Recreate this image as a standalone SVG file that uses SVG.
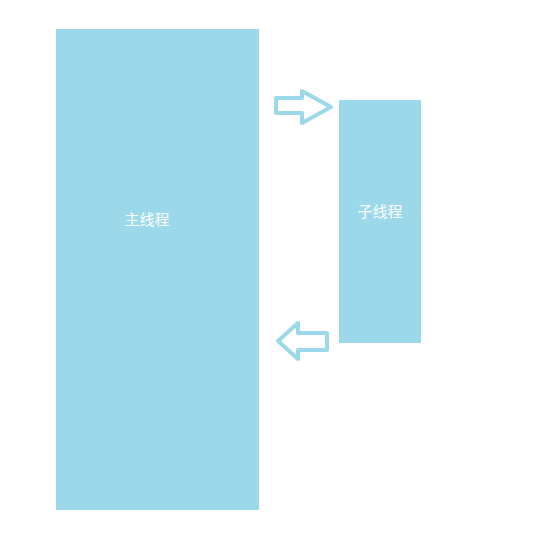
<svg xmlns="http://www.w3.org/2000/svg" width="534" height="545" viewBox="0 0 534 545">
<style>
.box{fill:#9bd9ea;}
.lbl{fill:#ffffff;font-family:"Noto Sans CJK SC","Noto Sans",sans-serif;font-size:15px;text-anchor:middle;dominant-baseline:central;}
.arrow{fill:#ffffff;stroke:#9bd9ea;stroke-width:4;stroke-linejoin:round;}
</style>
<rect width="534" height="545" fill="#ffffff"/>
<g id="main-thread">
<rect class="box" x="56" y="29" width="203" height="481"/>
<text class="lbl" x="147" y="218">主线程</text>
</g>
<g id="sub-thread">
<rect class="box" x="339" y="100" width="82" height="243"/>
<text class="lbl" x="380" y="210">子线程</text>
</g>
<g id="connectors">
<polygon class="arrow" points="276,98 302,98 302,91 331,107 302,123 302,113 276,113"/>
<polygon class="arrow" points="327,333 298,333 298,323 278,341 298,359 298,350 327,350"/>
</g>
</svg>
